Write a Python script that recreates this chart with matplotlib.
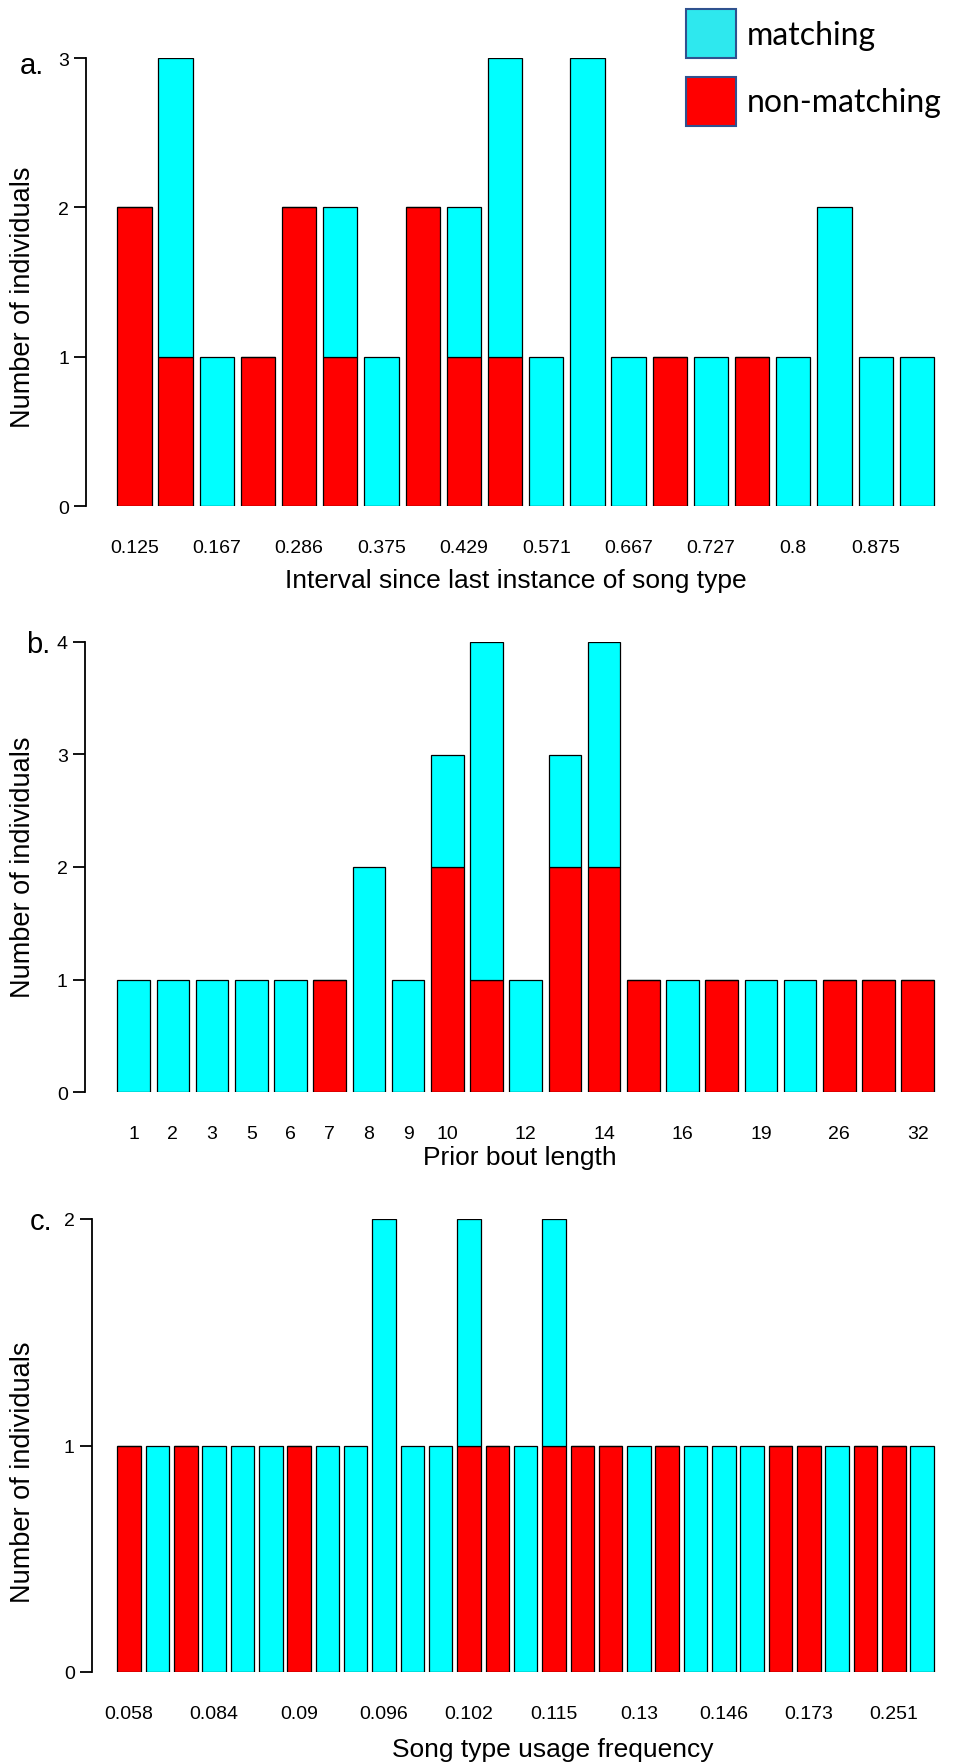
import matplotlib
matplotlib.use("Agg")
import matplotlib.pyplot as plt
from matplotlib.patches import Patch
import numpy as np

# ---------------------------------------------------------------------------
# Data (counts per category; red = non-matching at the bottom, cyan on top)
# ---------------------------------------------------------------------------
a_labels = ["0.125", "0.167", "0.286", "0.375", "0.429",
            "0.571", "0.667", "0.727", "0.8", "0.875"]
a_label_idx = [0, 2, 4, 6, 8, 10, 12, 14, 16, 18]
a_nonmatch = [2, 1, 0, 1, 2, 1, 0, 2, 1, 1, 0, 0, 0, 1, 0, 1, 0, 0, 0, 0]
a_match = [0, 2, 1, 0, 0, 1, 1, 0, 1, 2, 1, 3, 1, 0, 1, 0, 1, 2, 1, 1]

b_labels = ["1", "2", "3", "5", "6", "7", "8", "9", "10",
            "12", "14", "16", "19", "26", "32"]
b_label_idx = [0, 1, 2, 3, 4, 5, 6, 7, 8, 10, 12, 14, 16, 18, 20]
b_nonmatch = [0, 0, 0, 0, 0, 1, 0, 0, 2, 1, 0, 2, 2, 1, 0, 1, 0, 0, 1, 1, 1]
b_match = [1, 1, 1, 1, 1, 0, 2, 1, 1, 3, 1, 1, 2, 0, 1, 0, 1, 1, 0, 0, 0]

c_labels = ["0.058", "0.084", "0.09", "0.096", "0.102",
            "0.115", "0.13", "0.146", "0.173", "0.251"]
c_label_idx = [0, 3, 6, 9, 12, 15, 18, 21, 24, 27]
c_nonmatch = [1, 0, 1, 0, 0, 0, 1, 0, 0, 0, 0, 0, 1, 1, 0, 1, 1, 1, 0, 1,
              0, 0, 0, 1, 1, 0, 1, 1, 0]
c_match = [0, 1, 0, 1, 1, 1, 0, 1, 1, 2, 1, 1, 1, 0, 1, 1, 0, 0, 1, 0,
           1, 1, 1, 0, 0, 1, 0, 0, 1]

# ---------------------------------------------------------------------------
# Layout helpers (figure in pixels, 962 x 1765 at dpi 100)
# ---------------------------------------------------------------------------
W, H = 962, 1765
BAR_W = 0.833
RED = "#FF0000"
CYAN = "#00FFFF"
FONT = ["Liberation Sans", "DejaVu Sans"]

plt.rcParams["font.family"] = FONT

fig = plt.figure(figsize=(W / 100, H / 100), dpi=100)


def panel(nonmatch, match, labels, label_idx, ymax, axis_x, y0, ytop,
          letter, letter_xy, xlabel, xlabel_xy, ylabel_y,
          bar_left=117.3, bar_right=934.0, right=942.0):
    n = len(nonmatch)
    scale = (bar_right - bar_left) / (n - 1 + BAR_W)
    xmin = -BAR_W / 2 - (bar_left - axis_x) / scale
    xmax = (n - 1) + BAR_W / 2 + (right - bar_right) / scale
    ax = fig.add_axes([axis_x / W, 1 - y0 / H, (right - axis_x) / W, (y0 - ytop) / H])
    x = np.arange(n)
    ax.bar(x, nonmatch, width=BAR_W, color=RED, edgecolor="black", linewidth=0.9)
    ax.bar(x, match, bottom=nonmatch, width=BAR_W, color=CYAN,
           edgecolor="black", linewidth=0.9)
    ax.set_xlim(xmin, xmax)
    ax.set_ylim(0, ymax)
    for s in ("top", "right", "bottom"):
        ax.spines[s].set_visible(False)
    ax.spines["left"].set_linewidth(1.3)
    ax.spines["left"].set_bounds(0, ymax)
    ax.set_yticks(range(ymax + 1))
    ax.tick_params(axis="y", length=9, width=1.3, pad=3, labelsize=14)
    ax.set_xticks(label_idx, labels)
    ax.tick_params(axis="x", length=0, pad=24, labelsize=14)
    ax.patch.set_visible(False)

    fig.text(letter_xy[0] / W, 1 - letter_xy[1] / H, letter, fontsize=21,
             ha="left", va="baseline")
    fig.text(xlabel_xy[0] / W, 1 - xlabel_xy[1] / H, xlabel, fontsize=19,
             ha="center", va="center")
    fig.text(23 / W, 1 - ylabel_y / H, "Number of individuals", fontsize=19.5,
             rotation=90, ha="center", va="center")
    return ax


panel(a_nonmatch, a_match, a_labels, a_label_idx, 3, 86.0, 507.0, 59.0,
      "a.", (20, 74), "Interval since last instance of song type", (516, 581), 297)
panel(b_nonmatch, b_match, b_labels, b_label_idx, 4, 84.5, 1093.0, 643.0,
      "b.", (26, 653), "Prior bout length", (520, 1158), 867)
panel(c_nonmatch, c_match, c_labels, c_label_idx, 2, 91.5, 1673.0, 1220.0,
      "c.", (30, 1230), "Song type usage frequency", (553, 1750), 1472)

# legend in the top-right corner
handles = [Patch(facecolor="#2EE8EE", edgecolor="#2F528F", linewidth=1.5, label="matching"),
           Patch(facecolor=RED, edgecolor="#2F528F", linewidth=1.5, label="non-matching")]
fig.legend(handles=handles, loc="upper left", bbox_to_anchor=(686 / W, 1 - 10 / H),
           frameon=False, borderpad=0, borderaxespad=0,
           handlelength=1.55, handleheight=1.98, handletextpad=0.35,
           labelspacing=0.59, prop={"family": ["Lato", "DejaVu Sans"], "size": 23})

fig.savefig("out.png", dpi=100)
